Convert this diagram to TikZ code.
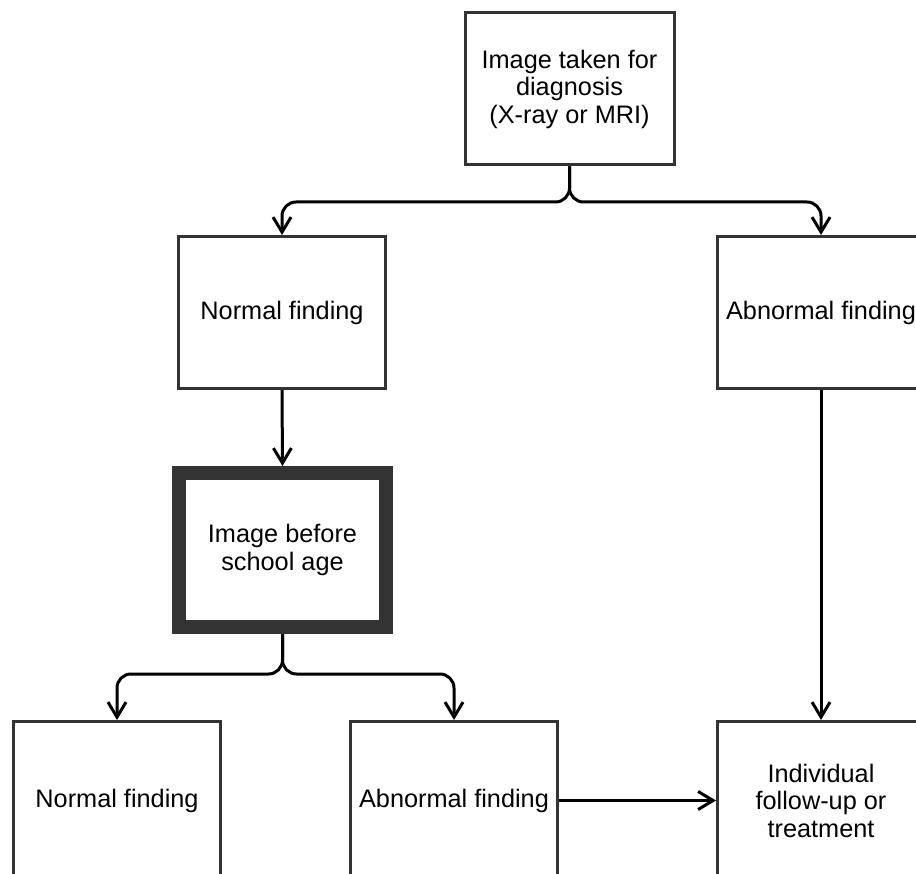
\documentclass[tikz,border=0pt]{standalone}
\usepackage{fontspec}
\setmainfont{Liberation Sans}
\usetikzlibrary{arrows.meta}
\definecolor{boxgray}{HTML}{333333}
\tikzset{
  box/.style={draw=boxgray, line width=3pt, fill=white, rectangle, minimum width=207pt, minimum height=152pt, align=center, inner sep=2pt,
    font=\fontsize{25.3pt}{27.5pt}\selectfont, text=black},
  tallbox/.style={box, minimum height=158pt},
  thickbox/.style={box, line width=14pt, minimum width=207pt, minimum height=154pt},
  conn/.style={line width=3pt, black, -{Straight Barb[length=15pt, width=18pt, line width=3pt]}},
  brace/.style={conn, rounded corners=14pt}
}
\begin{document}
\begin{tikzpicture}[x=1pt,y=-1pt]
\useasboundingbox (0,0) rectangle (916,874);
\node[box, minimum width=209pt] (top) at (569.5,89) {Image taken for\\diagnosis\\(X-ray or MRI)};
\node[box] (nf1) at (282,312.5) {Normal finding};
\node[box] (af1) at (821,312.5) {Abnormal finding};
\node[thickbox] (img) at (282.5,550) {Image before\\school age};
\node[tallbox] (nf2) at (117,800.5) {Normal finding};
\node[tallbox] (af2) at (454,800.5) {Abnormal finding};
\node[tallbox] (ind) at (821,800.5) {Individual\\follow-up or\\treatment};
\coordinate (j1) at (569.5,202);
\coordinate (j2) at (282.5,674);
\draw[brace] (top.south) -- (j1) -| (nf1.north);
\draw[brace] (top.south) -- (j1) -| (af1.north);
\draw[conn] (nf1.south) -- (img.north);
\draw[brace] (img.south) -- (j2) -| (nf2.north);
\draw[brace] (img.south) -- (j2) -| (af2.north);
\draw[conn] (af1.south) -- (ind.north);
\draw[conn] (af2.east) -- (ind.west);
\end{tikzpicture}
\end{document}
